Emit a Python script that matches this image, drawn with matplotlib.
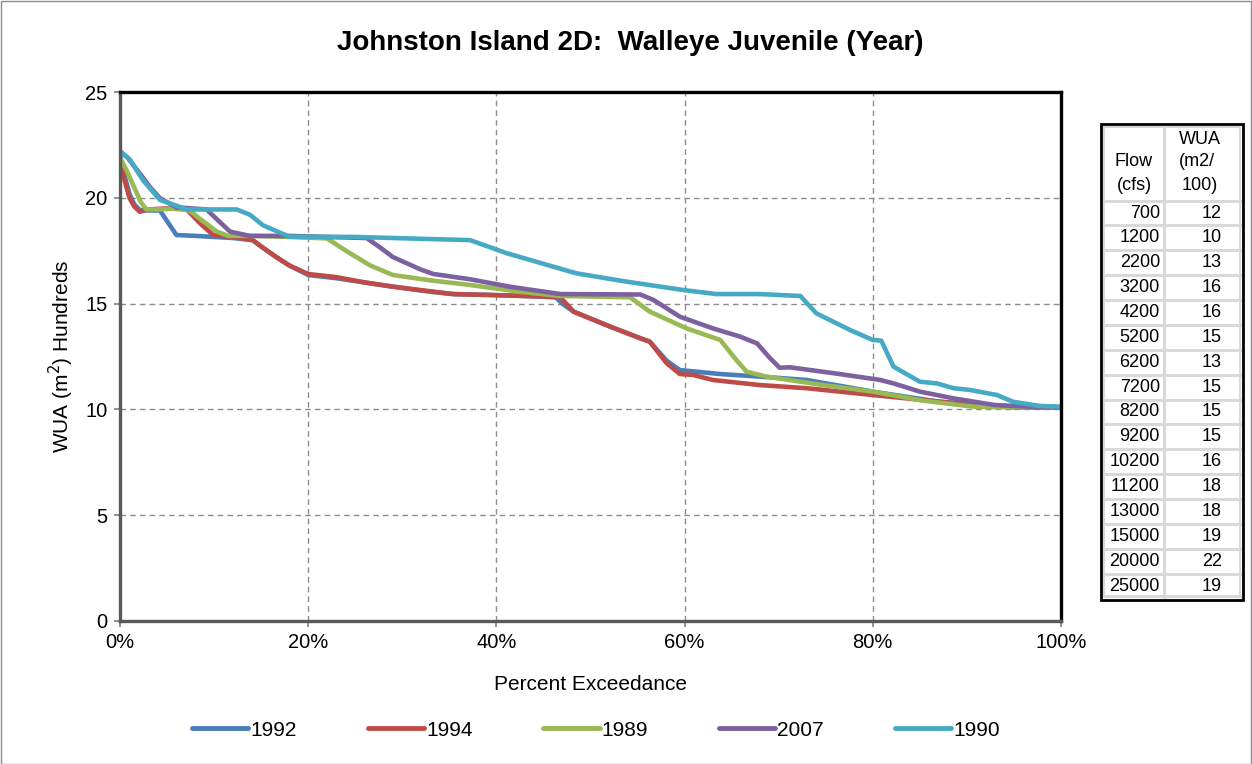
import matplotlib
matplotlib.use("Agg")
import matplotlib.pyplot as plt
from matplotlib.patches import Rectangle
from matplotlib.lines import Line2D

plt.rcParams['font.family'] = ['Liberation Sans', 'DejaVu Sans']

# ---------------------------------------------------------------
# Données
# ---------------------------------------------------------------
x_1992 = [0, 0.5, 1, 1.5, 2.1, 3, 4.25, 5, 6, 8, 10, 12, 14.1, 15, 16.6, 18, 20, 23, 26,
          29, 33, 35.4, 40, 44, 46.3, 47, 48.2, 52.1, 55.3, 56.3, 58.1, 59.5, 63.8, 68,
          73, 80, 87.1, 94.2, 100]
y_1992 = [22.0, 21.0, 20.2, 19.7, 19.42, 19.4, 19.4, 18.9, 18.24, 18.2, 18.15, 18.1, 18.0,
          17.7, 17.2, 16.8, 16.35, 16.2, 16.0, 15.8, 15.56, 15.45, 15.4, 15.35, 15.3, 15.0,
          14.62, 13.91, 13.36, 13.2, 12.3, 11.86, 11.67, 11.55, 11.39, 10.84, 10.36, 10.13, 10.1]

x_1994 = [0, 0.5, 1, 1.5, 2.1, 3, 5, 7.1, 8.5, 9.9, 12, 14.1, 15, 16.6, 18, 20, 23, 26, 29,
          31.9, 35.4, 40, 46.8, 48.2, 52.1, 55.3, 56.3, 58.1, 59.5, 60.9, 63, 68, 73, 80,
          85.4, 90.7, 95, 100]
y_1994 = [21.8, 20.8, 20.0, 19.6, 19.34, 19.45, 19.5, 19.45, 18.8, 18.24, 18.15, 18.0, 17.7,
          17.2, 16.8, 16.4, 16.25, 16.0, 15.8, 15.64, 15.45, 15.4, 15.3, 14.62, 13.91, 13.36,
          13.2, 12.18, 11.67, 11.63, 11.39, 11.15, 11.0, 10.68, 10.44, 10.21, 10.1, 10.1]

x_1989 = [0, 0.7, 1.5, 2.2, 2.8, 4, 6, 7.4, 8.5, 10.3, 11.5, 14, 18, 22, 24, 26.6, 29, 33,
          37.2, 42.5, 46.8, 54.2, 56.3, 60.2, 63.8, 65.5, 66.6, 68.7, 74.7, 80, 85.4, 90.7,
          93.5, 100]
y_1989 = [21.9, 21.3, 20.5, 19.8, 19.45, 19.45, 19.5, 19.4, 19.0, 18.4, 18.2, 18.2, 18.15,
          18.08, 17.5, 16.8, 16.35, 16.1, 15.88, 15.56, 15.36, 15.3, 14.62, 13.83, 13.28,
          12.33, 11.78, 11.55, 11.15, 10.84, 10.41, 10.13, 10.1, 10.1]

x_2007 = [0, 0.8, 2.1, 3.2, 4.25, 6, 9.2, 10.5, 11.7, 13.8, 18, 22, 26.2, 27.5, 29, 31.9,
          33.3, 37.2, 41.4, 46.8, 55.3, 56.7, 59.5, 63, 65.9, 67.7, 69.1, 70.1, 71.2, 76.5,
          80.8, 82.2, 85, 88.6, 92.9, 97.8, 100]
y_2007 = [22.2, 21.9, 21.15, 20.5, 19.98, 19.55, 19.45, 18.9, 18.4, 18.2, 18.2, 18.15, 18.1,
          17.7, 17.2, 16.62, 16.4, 16.15, 15.8, 15.45, 15.43, 15.17, 14.38, 13.83, 13.44,
          13.12, 12.41, 11.97, 11.99, 11.67, 11.39, 11.23, 10.84, 10.52, 10.21, 10.1, 10.1]

x_1990 = [0, 1.06, 2.5, 4.25, 7.1, 10, 12.4, 13.8, 15.2, 18, 25, 33, 37.2, 41.1, 48.5, 53.8,
          59.9, 63.4, 68, 72.3, 74, 77.6, 80, 80.9, 82.2, 85, 86.8, 88.6, 90.3, 93.2, 94.9,
          97.8, 100]
y_1990 = [22.2, 21.8, 20.8, 19.9, 19.45, 19.45, 19.45, 19.2, 18.7, 18.16, 18.15, 18.05, 18.0,
          17.38, 16.43, 16.04, 15.64, 15.45, 15.45, 15.36, 14.54, 13.75, 13.28, 13.25, 12.02,
          11.31, 11.23, 11.0, 10.92, 10.68, 10.36, 10.16, 10.13]

series_labels = ['1992', '1994', '1989', '2007', '1990']
series_colors = ['#4A7EBB', '#BE4B48', '#98B954', '#7D60A0', '#46AAC5']

# Tableau débit / WUA
table_flow = ['700', '1200', '2200', '3200', '4200', '5200', '6200', '7200', '8200',
              '9200', '10200', '11200', '13000', '15000', '20000', '25000']
table_wua = ['12', '10', '13', '16', '16', '15', '13', '15', '15', '15', '16', '18', '18',
             '19', '22', '19']

# ---------------------------------------------------------------
# Figure
# ---------------------------------------------------------------
W, H = 1252, 764
fig = plt.figure(figsize=(W / 100, H / 100), dpi=100)
fig.patches.append(Rectangle((0.5 / W, 0.5 / H), 1 - 1.5 / W, 1 - 1.5 / H,
                             transform=fig.transFigure, fill=False,
                             edgecolor='#8c8c8c', linewidth=1))

ax = fig.add_axes([120 / W, 1 - 621 / H, (1061 - 120) / W, (621 - 92) / H])

xs = [x_1992, x_1994, x_1989, x_2007, x_1990]
ys = [y_1992, y_1994, y_1989, y_2007, y_1990]
for x, y, lab, col in zip(xs, ys, series_labels, series_colors):
    ax.plot(x, y, color=col, lw=3.3, label=lab, solid_capstyle='round',
            solid_joinstyle='round')

ax.set_xlim(0, 100)
ax.set_ylim(0, 25)
ax.set_xticks([0, 20, 40, 60, 80, 100])
ax.set_xticklabels(['0%', '20%', '40%', '60%', '80%', '100%'])
ax.set_yticks([0, 5, 10, 15, 20, 25])
ax.tick_params(labelsize=14.5, length=4, width=1.2, color='#7f7f7f', direction='out',
               pad=5)
ax.grid(True, color='#8c8c8c', linestyle=(0, (4, 3)), linewidth=1)
ax.set_axisbelow(True)
for s in ax.spines.values():
    s.set_linewidth(2.4)
    s.set_color('black')
ax.spines['left'].set_color('#595959')
ax.spines['bottom'].set_color('#595959')

ax.set_xlabel('Percent Exceedance', fontsize=15, labelpad=16)
ax.set_ylabel('WUA (m$^2$) Hundreds', fontsize=15, labelpad=7)
fig.text(630 / W, 1 - 43 / H, 'Johnston Island 2D:  Walleye Juvenile (Year)',
         ha='center', va='center', fontsize=20, fontweight='bold')

# Légende en bas
handles = [Line2D([], [], color=c, lw=3.5, solid_capstyle='round') for c in series_colors]
fig.legend(handles, series_labels, loc='center', bbox_to_anchor=(596 / W, 1 - 730 / H),
           ncol=5, frameon=False, fontsize=15, handlelength=2.7, handletextpad=0.1,
           columnspacing=3.4)

# ---------------------------------------------------------------
# Tableau à droite
# ---------------------------------------------------------------
def fx(px):
    return px / W

def fy(py):
    return 1 - py / H

tl, tr, tt, tb = 1101, 1243, 124, 600
col_div = 1164
fs_tab = 13

row0, row_h = 213, 24.87
for i, (fl, wu) in enumerate(zip(table_flow, table_wua)):
    yc = row0 + i * row_h
    fig.text(fx(1160), fy(yc), fl, ha='right', va='center', fontsize=fs_tab)
    fig.text(fx(1222), fy(yc), wu, ha='right', va='center', fontsize=fs_tab)
    ysep = yc - row_h / 2
    fig.add_artist(Line2D([fx(tl + 3), fx(tr - 3)], [fy(ysep), fy(ysep)],
                          color='#d9d9d9', lw=2.2))
fig.add_artist(Line2D([fx(tl + 3), fx(tr - 3)], [fy(tb - 4), fy(tb - 4)],
                      color='#d9d9d9', lw=2.2))
fig.add_artist(Line2D([fx(col_div), fx(col_div)], [fy(tt + 3), fy(tb - 3)],
                      color='#d9d9d9', lw=2.2))
fig.patches.append(Rectangle((fx(tl + 3), fy(tb - 3)), fx(tr - 3) - fx(tl + 3),
                             fy(tt + 3) - fy(tb - 3), transform=fig.transFigure,
                             fill=False, edgecolor='#d9d9d9', linewidth=1.5))
fig.patches.append(Rectangle((fx(tl), fy(tb)), fx(tr) - fx(tl), fy(tt) - fy(tb),
                             transform=fig.transFigure, fill=False,
                             edgecolor='black', linewidth=2))

fig.text(fx(1200), fy(140), 'WUA', ha='center', va='center', fontsize=fs_tab)
fig.text(fx(1134), fy(162), 'Flow', ha='center', va='center', fontsize=fs_tab)
fig.text(fx(1197), fy(162), '(m2/', ha='center', va='center', fontsize=fs_tab)
fig.text(fx(1134), fy(186), '(cfs)', ha='center', va='center', fontsize=fs_tab)
fig.text(fx(1200), fy(186), '100)', ha='center', va='center', fontsize=fs_tab)

fig.savefig('out.png', dpi=100)
